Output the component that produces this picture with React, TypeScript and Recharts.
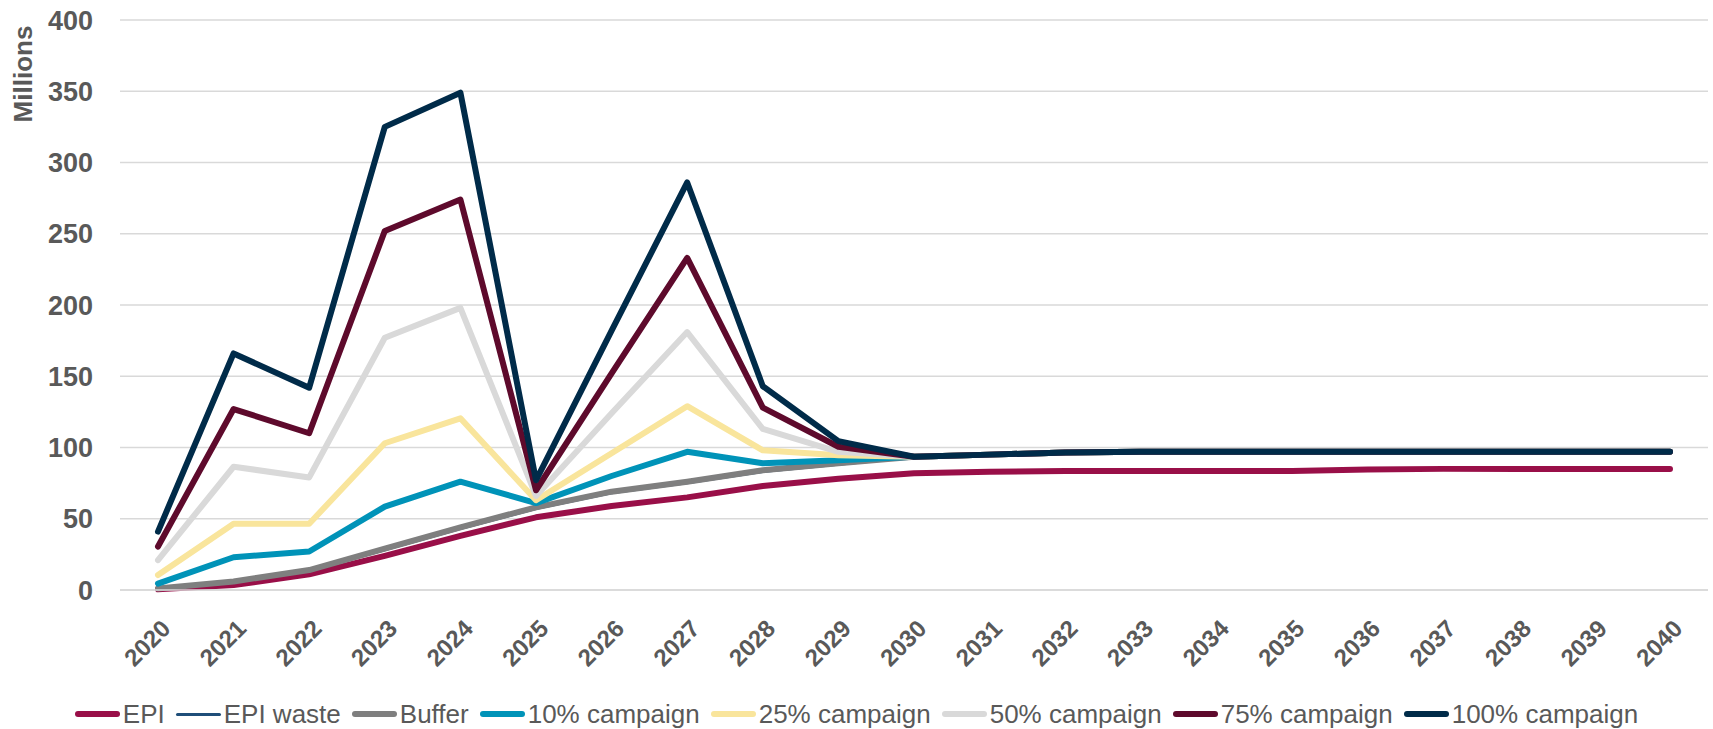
import React from "react";
import { LineChart, Line, XAxis, YAxis, CartesianGrid, Legend } from "recharts";

// Years on the category axis
const years = [
  "2020", "2021", "2022", "2023", "2024", "2025", "2026", "2027", "2028", "2029", "2030",
  "2031", "2032", "2033", "2034", "2035", "2036", "2037", "2038", "2039", "2040",
];

// Doses (millions) per scenario
const epi = [0.5, 3.5, 11, 24, 38, 51, 59, 65, 73, 78, 82, 83, 83.5, 83.5, 83.5, 83.5, 84.5, 85, 85, 85, 85];
const epiWaste = [0.8, 5.5, 13.5, 28, 43, 57, 68, 75, 83, 88, 93, 95, 96.5, 97, 97, 97, 97, 97, 97, 97, 97];
const buffer = [1, 6, 14, 29, 44, 58, 69, 76, 84, 89, 93.5, 95, 96.5, 97, 97, 97, 97, 97, 97, 97, 97];
const campaign10 = [4.5, 23, 27, 58.5, 76, 61, 80, 97, 89, 91, 93.5, 95, 96.5, 97, 97, 97, 97, 97, 97, 97, 97];
const campaign25 = [10.5, 46.5, 46.5, 103, 120.5, 63, 96, 129, 98, 94.5, 93.5, 95, 96.5, 97, 97, 97, 97, 97, 97, 97, 97];
const campaign50 = [21, 86.5, 79, 177, 198, 66, 124, 181, 113, 97, 93.5, 95, 96.5, 97, 97, 97, 97, 97, 97, 97, 97];
const campaign75 = [30.5, 127, 110, 252, 274, 70, 152, 233, 128, 100.5, 93.5, 95, 96.5, 97, 97, 97, 97, 97, 97, 97, 97];
const campaign100 = [41, 166, 142, 325, 349, 77, 182, 286, 143, 104.5, 93.5, 95, 96.5, 97, 97, 97, 97, 97, 97, 97, 97];

const yTicks = [0, 50, 100, 150, 200, 250, 300, 350, 400];

const series = [
  { key: "epi", name: "EPI", values: epi, color: "#990F48", width: 6 },
  { key: "epiWaste", name: "EPI waste", values: epiWaste, color: "#1F4E79", width: 2.5 },
  { key: "buffer", name: "Buffer", values: buffer, color: "#7F7F7F", width: 6 },
  { key: "c10", name: "10% campaign", values: campaign10, color: "#0093B8", width: 6 },
  { key: "c25", name: "25% campaign", values: campaign25, color: "#F9E59C", width: 6 },
  { key: "c50", name: "50% campaign", values: campaign50, color: "#D9D9D9", width: 6 },
  { key: "c75", name: "75% campaign", values: campaign75, color: "#5E0A2C", width: 6 },
  { key: "c100", name: "100% campaign", values: campaign100, color: "#002B49", width: 6 },
];

const data = years.map((year, i) => {
  const row: Record<string, number | string> = { year };
  series.forEach((s) => {
    row[s.key] = s.values[i];
  });
  return row;
});

const FONT = "'Liberation Sans', Arial, sans-serif";
const TEXT = "#595959";

const YearTick = (props: any) => {
  const { x, y, payload } = props;
  const tx = x + 14;
  const ty = y + 40;
  return (
    <text
      x={tx}
      y={ty}
      transform={`rotate(-45 ${tx} ${ty})`}
      textAnchor="end"
      fill={TEXT}
      style={{ fontFamily: FONT, fontSize: 24, fontWeight: 700 }}
    >
      {payload.value}
    </text>
  );
};

const LegendContent = () => (
  <div
    style={{
      display: "flex",
      justifyContent: "center",
      alignItems: "center",
      height: 30,
      width: 1713,
      fontFamily: FONT,
      fontSize: 26,
      color: TEXT,
      whiteSpace: "nowrap",
    }}
  >
    {series.map((s, i) => (
      <div key={s.key} style={{ display: "flex", alignItems: "center", marginLeft: i === 0 ? 0 : 11 }}>
        <span
          style={{
            display: "inline-block",
            width: 45,
            height: s.width === 6 ? 6 : 3,
            borderRadius: 3,
            background: s.color,
            marginRight: 3,
          }}
        />
        <span>{s.name}</span>
      </div>
    ))}
  </div>
);

export default function App() {
  return (
    <div style={{ position: "absolute", left: 0, top: 0, background: "#fff" }}>
      <LineChart width={1713} height={729} data={data} margin={{ top: 20, right: 5, left: 0, bottom: 0 }}>
        <CartesianGrid vertical={false} stroke="#D9D9D9" strokeWidth={1.5} />
        <XAxis
          dataKey="year"
          interval={0}
          height={109}
          padding={{ left: 38, right: 38 }}
          tickLine={false}
          tickSize={0}
          tickMargin={0}
          axisLine={{ stroke: "#D9D9D9", strokeWidth: 1.5 }}
          tick={<YearTick />}
        />
        <YAxis
          width={120}
          domain={[0, 400]}
          ticks={yTicks}
          interval={0}
          axisLine={false}
          tickLine={false}
          tickSize={0}
          tickMargin={27}
          tick={{ fill: TEXT, fontSize: 27, fontWeight: 700, fontFamily: FONT }}
          label={{
            content: () => (
              <text
                x={23}
                y={74}
                transform="rotate(-90 23 74)"
                textAnchor="middle"
                dominantBaseline="central"
                fill={TEXT}
                style={{ fontFamily: FONT, fontSize: 26, fontWeight: 700 }}
              >
                Millions
              </text>
            ),
          }}
        />
        <Legend verticalAlign="bottom" content={<LegendContent />} wrapperStyle={{ left: 0, width: 1713 }} />
        {series.map((s) => (
          <Line
            key={s.key}
            type="linear"
            dataKey={s.key}
            name={s.name}
            stroke={s.color}
            strokeWidth={s.width}
            strokeLinejoin="round"
            strokeLinecap="round"
            dot={false}
            activeDot={false}
            isAnimationActive={false}
          />
        ))}
      </LineChart>
    </div>
  );
}
